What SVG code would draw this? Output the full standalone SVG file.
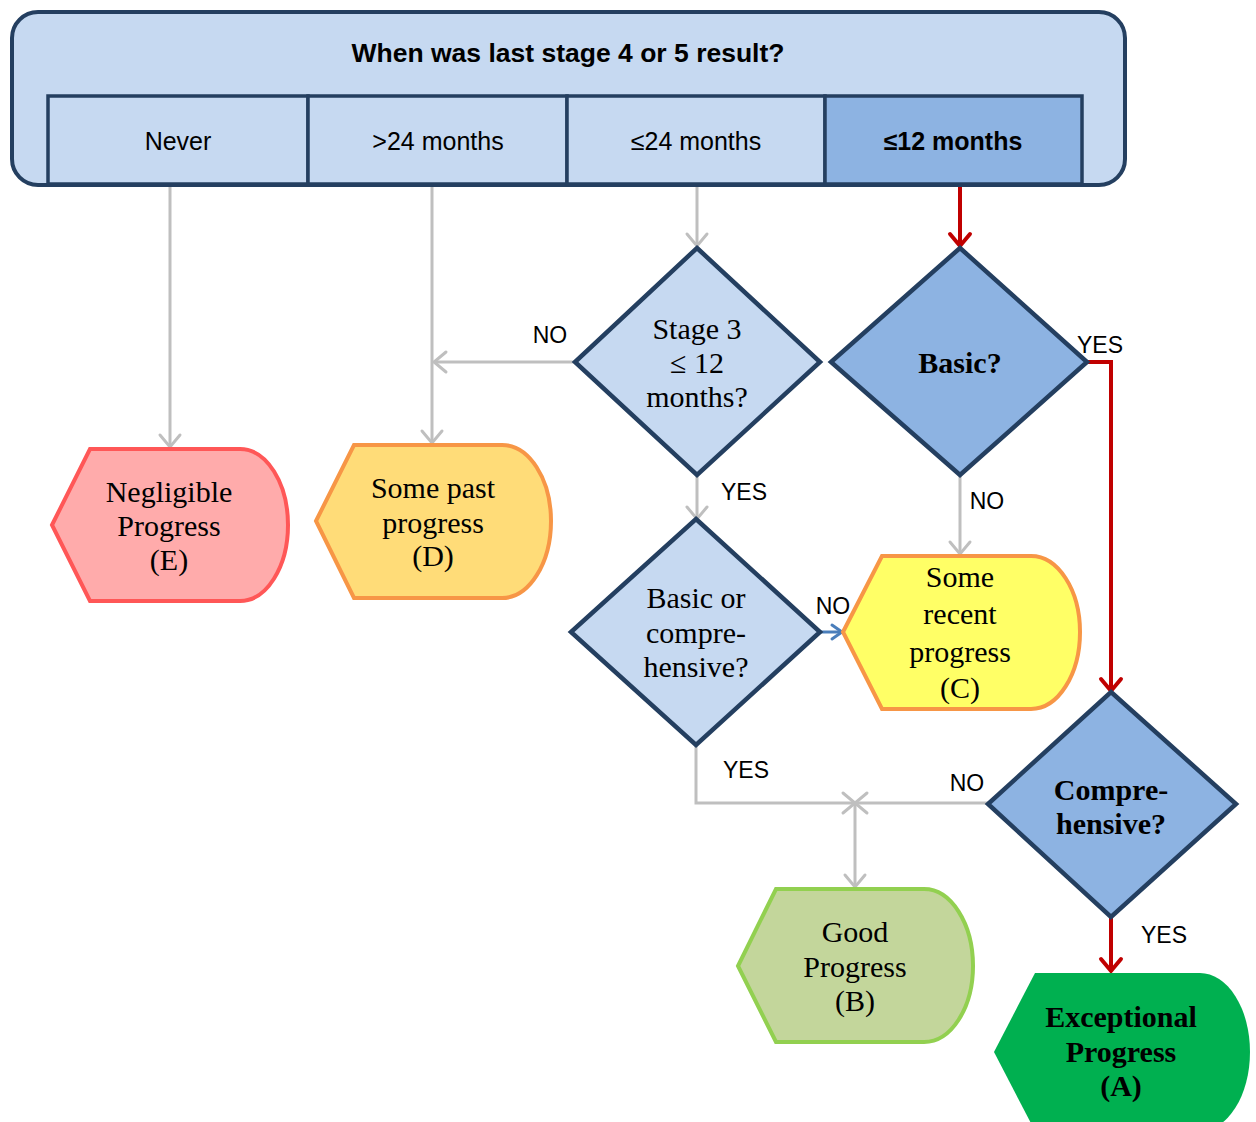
<svg xmlns="http://www.w3.org/2000/svg" width="1256" height="1122" viewBox="0 0 1256 1122">
<style>
.hdr{fill:#c6d9f1;stroke:#243f60;stroke-width:4}
.cell{fill:#c6d9f1;stroke:#243f60;stroke-width:3.5}
.cellsel{fill:#8db3e2;stroke:#243f60;stroke-width:3.5}
.dia{fill:#c6d9f1;stroke:#243f60;stroke-width:4.5}
.dia2{fill:#8db3e2;stroke:#243f60;stroke-width:4.5}
.sans{font-family:"Liberation Sans",Arial,sans-serif;fill:#000}
.serif{font-family:"Liberation Serif","Times New Roman",serif;fill:#000;font-size:30px}
.lbl{font-family:"Liberation Sans",Arial,sans-serif;font-size:23px;fill:#000}
.g{fill:none;stroke:#bfbfbf;stroke-width:3}
.r{fill:none;stroke:#c00000;stroke-width:4}
.b{fill:none;stroke:#4a7ebb;stroke-width:3}
</style>
<defs>
<marker id="ag" markerUnits="userSpaceOnUse" markerWidth="30" markerHeight="30" viewBox="0 0 30 30" refX="20" refY="15" orient="auto">
<path d="M8,5 L20,15 L8,25" fill="none" stroke="#bfbfbf" stroke-width="3" stroke-linecap="round"/>
</marker>
<marker id="ar" markerUnits="userSpaceOnUse" markerWidth="30" markerHeight="30" viewBox="0 0 30 30" refX="20" refY="15" orient="auto">
<path d="M8,5 L20,15 L8,25" fill="none" stroke="#c00000" stroke-width="4" stroke-linecap="round"/>
</marker>
<marker id="ab" markerUnits="userSpaceOnUse" markerWidth="30" markerHeight="30" viewBox="0 0 30 30" refX="20" refY="15" orient="auto">
<path d="M10,8 L20,15 L10,22" fill="none" stroke="#4a7ebb" stroke-width="3" stroke-linecap="round"/>
</marker>
</defs>
<rect width="1256" height="1122" fill="#fff"/>

<g id="header">
<rect class="hdr" x="12" y="12" width="1113" height="173" rx="26" ry="26"/>
<text class="sans" x="568" y="62" font-size="26.5" font-weight="bold" text-anchor="middle">When was last stage 4 or 5 result?</text>
</g>
<g id="cell-never">
<rect class="cell" x="48" y="96" width="260" height="88"/>
<text class="sans" x="178" y="150" font-size="25" text-anchor="middle">Never</text>
</g>
<g id="cell-gt24">
<rect class="cell" x="308" y="96" width="259" height="88"/>
<text class="sans" x="438" y="150" font-size="25" text-anchor="middle">&gt;24 months</text>
</g>
<g id="cell-le24">
<rect class="cell" x="567" y="96" width="258" height="88"/>
<text class="sans" x="696" y="150" font-size="25" text-anchor="middle">≤24 months</text>
</g>
<g id="cell-le12">
<rect class="cellsel" x="825" y="96" width="257" height="88"/>
<text class="sans" x="953" y="150" font-size="25" font-weight="bold" text-anchor="middle">≤12 months</text>
</g>

<g id="connectors">
<line class="g" x1="170" y1="187" x2="170" y2="447" marker-end="url(#ag)"/>
<line class="g" x1="432" y1="187" x2="432" y2="443" marker-end="url(#ag)"/>
<line class="g" x1="575" y1="362" x2="434" y2="362" marker-end="url(#ag)"/>
<line class="g" x1="697" y1="187" x2="697" y2="246" marker-end="url(#ag)"/>
<line class="r" x1="960" y1="187" x2="960" y2="246" marker-end="url(#ar)"/>
<polyline class="r" points="1087,362 1111,362 1111,691" marker-end="url(#ar)"/>
<line class="g" x1="697" y1="475" x2="697" y2="519" marker-end="url(#ag)"/>
<line class="g" x1="960" y1="475" x2="960" y2="554" marker-end="url(#ag)"/>
<line class="b" x1="821" y1="632" x2="842" y2="632" marker-end="url(#ab)"/>
<polyline class="g" points="696,745 696,803 855,803" marker-end="url(#ag)"/>
<line class="g" x1="988" y1="803" x2="855" y2="803" marker-end="url(#ag)"/>
<line class="g" x1="855" y1="803" x2="855" y2="887" marker-end="url(#ag)"/>
<line class="r" x1="1111" y1="917" x2="1111" y2="971" marker-end="url(#ar)"/>
<text class="lbl" x="550" y="343" text-anchor="middle">NO</text>
<text class="lbl" x="1100" y="353" text-anchor="middle">YES</text>
<text class="lbl" x="744" y="500" text-anchor="middle">YES</text>
<text class="lbl" x="987" y="509" text-anchor="middle">NO</text>
<text class="lbl" x="833" y="614" text-anchor="middle">NO</text>
<text class="lbl" x="746" y="778" text-anchor="middle">YES</text>
<text class="lbl" x="967" y="791" text-anchor="middle">NO</text>
<text class="lbl" x="1164" y="943" text-anchor="middle">YES</text>
</g>

<g id="stage3">
<polygon class="dia" points="697,248 820,362 697,475 575,362"/>
<text class="serif" text-anchor="middle"><tspan x="697" y="339">Stage 3</tspan><tspan x="697" y="373">≤ 12</tspan><tspan x="697" y="407">months?</tspan></text>
</g>
<g id="basic">
<polygon class="dia2" points="960,248 1087,362 960,475 831,362"/>
<text class="serif" x="960" y="373" font-weight="bold" text-anchor="middle">Basic?</text>
</g>
<g id="basic-or-comp">
<polygon class="dia" points="696,519 820,632 696,745 571,632"/>
<text class="serif" text-anchor="middle"><tspan x="696" y="608">Basic or</tspan><tspan x="696" y="643">compre-</tspan><tspan x="696" y="677">hensive?</tspan></text>
</g>
<g id="comprehensive">
<polygon class="dia2" points="1111,692 1236,804 1111,917 988,804"/>
<text class="serif" font-weight="bold" text-anchor="middle"><tspan x="1111" y="800">Compre-</tspan><tspan x="1111" y="834">hensive?</tspan></text>
</g>

<g id="result-E">
<path d="M52,525 L90,449 L240,449 A48,76 0 0 1 288,525 A48,76 0 0 1 240,601 L90,601 Z" fill="#ffabab" stroke="#ff5757" stroke-width="4"/>
<text class="serif" text-anchor="middle"><tspan x="169" y="502">Negligible</tspan><tspan x="169" y="536">Progress</tspan><tspan x="169" y="570">(E)</tspan></text>
</g>
<g id="result-D">
<path d="M316,521 L354,445 L502,445 A49,76 0 0 1 551,521 A49,77 0 0 1 502,598 L354,598 Z" fill="#ffdc78" stroke="#f79646" stroke-width="4"/>
<text class="serif" text-anchor="middle"><tspan x="433" y="498">Some past</tspan><tspan x="433" y="533">progress</tspan><tspan x="433" y="566">(D)</tspan></text>
</g>
<g id="result-C">
<path d="M843,632 L882,556 L1031,556 A49,76 0 0 1 1080,632 A49,77 0 0 1 1031,709 L882,709 Z" fill="#ffff66" stroke="#f79646" stroke-width="4"/>
<text class="serif" text-anchor="middle"><tspan x="960" y="587">Some</tspan><tspan x="960" y="624">recent</tspan><tspan x="960" y="662">progress</tspan><tspan x="960" y="698">(C)</tspan></text>
</g>
<g id="result-B">
<path d="M738,966 L776,889 L924,889 A49,77 0 0 1 973,966 A49,76 0 0 1 924,1042 L776,1042 Z" fill="#c3d69b" stroke="#92d050" stroke-width="4"/>
<text class="serif" text-anchor="middle"><tspan x="855" y="942">Good</tspan><tspan x="855" y="977">Progress</tspan><tspan x="855" y="1011">(B)</tspan></text>
</g>
<g id="result-A">
<path d="M994,1052 L1035,973 L1200,973 A50,79 0 0 1 1250,1052 A50,79 0 0 1 1200,1131 L1035,1131 Z" fill="#00b050"/>
<text class="serif" font-weight="bold" text-anchor="middle"><tspan x="1121" y="1027">Exceptional</tspan><tspan x="1121" y="1062">Progress</tspan><tspan x="1121" y="1096">(A)</tspan></text>
</g>
</svg>
